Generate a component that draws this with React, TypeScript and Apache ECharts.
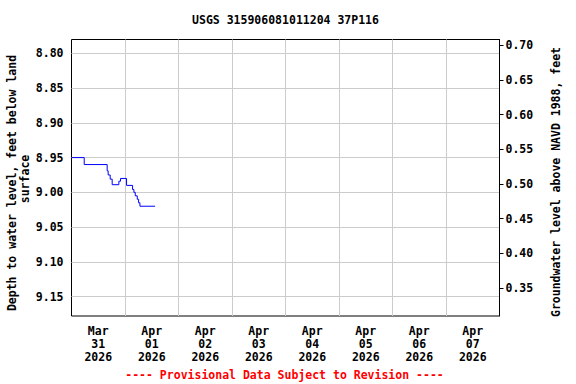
import React, { useEffect, useRef } from "react";
import * as echarts from "echarts";

const chartTitle = "USGS 315906081011204 37P116";
const leftAxisNameLines = ["Depth to water level, feet below land", "surface"];
const rightAxisName = "Groundwater level above NAVD 1988, feet";
const footnote = "---- Provisional Data Subject to Revision ----";

const dayLabels = [
  "Mar\n31\n2026",
  "Apr\n01\n2026",
  "Apr\n02\n2026",
  "Apr\n03\n2026",
  "Apr\n04\n2026",
  "Apr\n05\n2026",
  "Apr\n06\n2026",
  "Apr\n07\n2026",
];
const depthTicks = [8.8, 8.85, 8.9, 8.95, 9.0, 9.05, 9.1, 9.15];
const elevationTicks = [0.35, 0.4, 0.45, 0.5, 0.55, 0.6, 0.65, 0.7];

// hours after Mar 31 2026 00:00
const hoursSinceStart = [0, 5.7, 16.0, 16.45, 17.35, 18.25, 21.25, 22.0, 24.7, 27.4, 28.0, 28.6, 29.5, 30.1, 30.7, 37.5];
const depthValues = [8.95, 8.96, 8.969, 8.975, 8.981, 8.989, 8.984, 8.98, 8.99, 8.996, 9.0, 9.005, 9.01, 9.015, 9.02, 9.02];

const HOURS_PER_DAY = 24;
const FONT = "DejaVu Sans Mono";

export default function App() {
  const ref = useRef<HTMLDivElement>(null);
  useEffect(() => {
    if (!ref.current) return;
    const chart = echarts.init(ref.current, null, { renderer: "svg" });
    const data = hoursSinceStart.map((h, i) => [h, depthValues[i]]);
    const midnights = dayLabels.slice(1).map((_, i) => (i + 1) * HOURS_PER_DAY);
    const noons = dayLabels.map((_, i) => i * HOURS_PER_DAY + HOURS_PER_DAY / 2);
    const labelStyle = { fontFamily: FONT, fontWeight: "bold" as const, fontSize: 11.5, color: "#000" };
    chart.setOption({
      animation: false,
      grid: {
        left: 71.5,
        right: 76.5,
        top: 39.5,
        bottom: 68,
        show: true,
        borderColor: "#000",
        borderWidth: 1,
        backgroundColor: "transparent",
      },
      xAxis: {
        type: "value",
        min: 0,
        max: dayLabels.length * HOURS_PER_DAY,
        axisLine: { show: false },
        axisTick: { show: false, customValues: midnights },
        splitLine: { show: true, lineStyle: { color: "#cccccc", width: 1 } },
        axisLabel: {
          ...labelStyle,
          customValues: noons,
          lineHeight: 13,
          margin: 8,
          formatter: (v: number) => dayLabels[Math.floor(v / HOURS_PER_DAY)] ?? "",
        },
      },
      yAxis: [
        {
          type: "value",
          inverse: true,
          min: 8.78,
          max: 9.178,
          axisLine: { show: false },
          axisTick: { show: false, customValues: depthTicks },
          splitLine: { show: true, lineStyle: { color: "#cccccc", width: 1 } },
          axisLabel: {
            ...labelStyle,
            customValues: depthTicks,
            margin: 8,
            formatter: (v: number) => v.toFixed(2),
          },
        },
        {
          type: "value",
          position: "right",
          min: 0.31,
          max: 0.708,
          axisLine: { show: true, lineStyle: { color: "#000", width: 1 } },
          axisTick: { show: true, inside: false, length: 4, customValues: elevationTicks, lineStyle: { color: "#000" } },
          splitLine: { show: false },
          axisLabel: {
            ...labelStyle,
            customValues: elevationTicks,
            margin: 6,
            formatter: (v: number) => v.toFixed(2),
          },
        },
      ],
      series: [
        {
          type: "line",
          yAxisIndex: 0,
          data,
          step: "end",
          showSymbol: false,
          silent: true,
          lineStyle: { color: "#0000ff", width: 1 },
        },
      ],
      graphic: [
        {
          type: "text",
          x: 285.5,
          y: 20,
          style: { text: chartTitle, ...labelStyle, fill: "#000", textAlign: "center", textVerticalAlign: "middle" },
        },
        {
          type: "text",
          x: 11.5,
          y: 183,
          rotation: Math.PI / 2,
          style: { text: leftAxisNameLines[0], ...labelStyle, fill: "#000", textAlign: "center", textVerticalAlign: "middle" },
        },
        {
          type: "text",
          x: 25,
          y: 179,
          rotation: Math.PI / 2,
          style: { text: leftAxisNameLines[1], ...labelStyle, fill: "#000", textAlign: "center", textVerticalAlign: "middle" },
        },
        {
          type: "text",
          x: 556,
          y: 182,
          rotation: Math.PI / 2,
          style: { text: rightAxisName, ...labelStyle, fill: "#000", textAlign: "center", textVerticalAlign: "middle" },
        },
        {
          type: "text",
          x: 284.5,
          y: 375,
          style: { text: footnote, ...labelStyle, fill: "#ff0000", textAlign: "center", textVerticalAlign: "middle" },
        },
      ],
    });
    return () => chart.dispose();
  }, []);
  return <div ref={ref} style={{ width: 576, height: 384, position: "absolute", left: 0, top: 0 }} />;
}
